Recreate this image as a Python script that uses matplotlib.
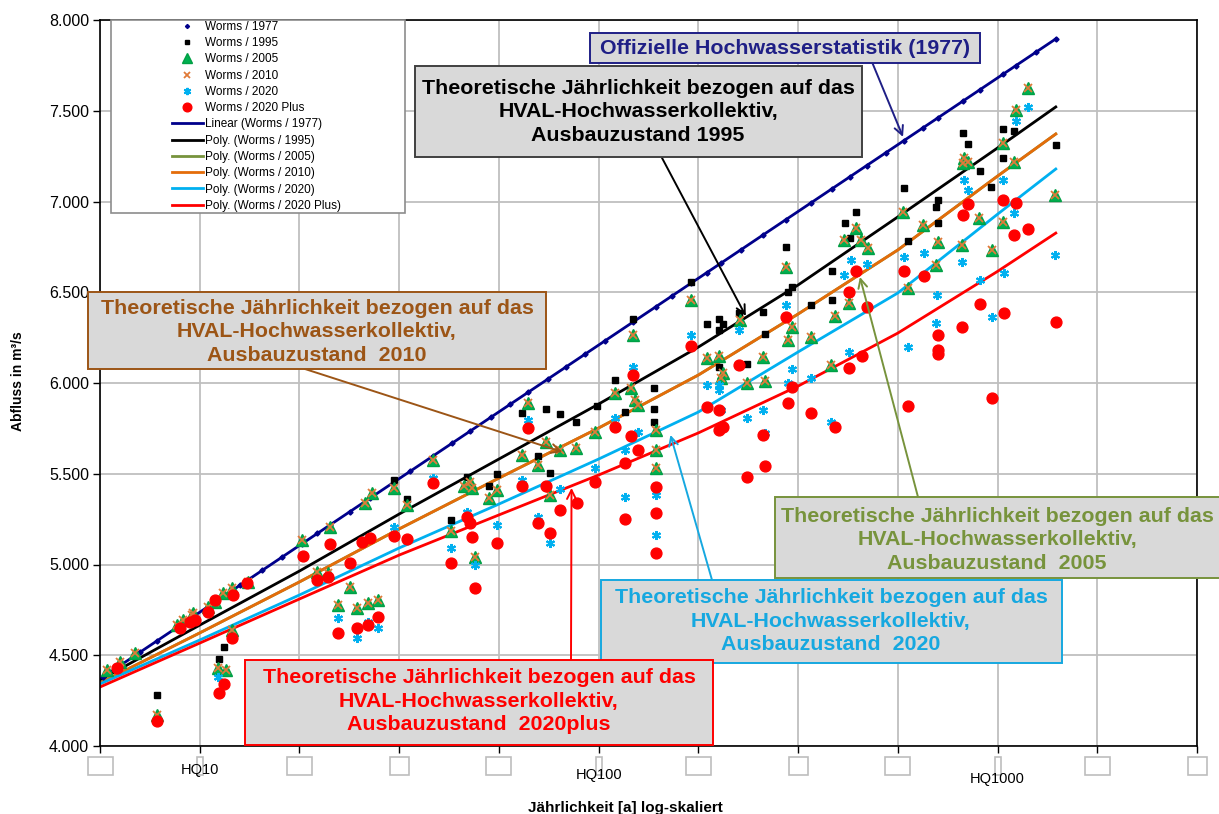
import numpy as np
import matplotlib
matplotlib.use("Agg")
import matplotlib.pyplot as plt
from matplotlib.patches import Rectangle
from matplotlib.transforms import IdentityTransform

plt.rcParams['font.family'] = ['Liberation Sans', 'DejaVu Sans']

# ---------------- data: (log10 Jährlichkeit, Abfluss m³/s) ----------------
worms_1977 = [(0.758, 4381), (0.800, 4443), (0.850, 4516), (0.893, 4580), (0.943, 4653),
              (0.981, 4709), (1.021, 4768), (1.059, 4824), (1.101, 4886), (1.157, 4968),
              (1.207, 5042), (1.257, 5115), (1.295, 5171), (1.327, 5218), (1.377, 5292),
              (1.428, 5367), (1.488, 5455), (1.528, 5514), (1.586, 5600), (1.633, 5669),
              (1.678, 5735), (1.729, 5810), (1.779, 5884), (1.824, 5950), (1.874, 6024),
              (1.917, 6087), (1.967, 6160), (2.017, 6234), (2.085, 6334), (2.143, 6419),
              (2.185, 6481), (2.231, 6549), (2.271, 6608), (2.306, 6659), (2.356, 6733),
              (2.411, 6814), (2.469, 6899), (2.532, 6992), (2.584, 7069), (2.630, 7136),
              (2.672, 7198), (2.720, 7269), (2.765, 7335), (2.813, 7406), (2.850, 7460),
              (2.913, 7553), (2.956, 7616), (3.013, 7700), (3.046, 7749), (3.096, 7822),
              (3.146, 7896)]

worms_1995 = [(0.893, 4281), (1.049, 4479), (1.061, 4545), (1.488, 5466), (1.520, 5361),
              (1.631, 5245), (1.671, 5482), (1.724, 5433), (1.746, 5499), (1.809, 5835),
              (1.867, 5857), (1.904, 5829), (1.944, 5785), (1.847, 5598), (1.879, 5504),
              (1.997, 5873), (2.042, 6017), (2.067, 5840), (2.085, 6353), (2.138, 5973),
              (2.138, 5857), (2.138, 5785), (2.231, 6557), (2.271, 6325), (2.301, 6353),
              (2.311, 6325), (2.301, 6292), (2.301, 6088), (2.351, 6386), (2.371, 6105),
              (2.411, 6391), (2.416, 6270), (2.469, 6749), (2.474, 6502), (2.484, 6529),
              (2.532, 6430), (2.584, 6617), (2.584, 6457), (2.630, 6799), (2.645, 6942),
              (2.617, 6882), (2.765, 7075), (2.775, 6782), (2.850, 7008), (2.845, 6970),
              (2.850, 6882), (2.913, 7378), (2.926, 7317), (2.956, 7168), (2.983, 7080),
              (3.013, 7400), (3.041, 7389), (3.013, 7240), (3.146, 7312)]

worms_2005 = [(0.768, 4419), (0.800, 4463), (0.838, 4512), (0.893, 4171), (0.943, 4667),
              (0.958, 4694), (0.981, 4722), (0.983, 4733), (1.021, 4766), (1.039, 4793),
              (1.059, 4843), (1.081, 4871), (1.121, 4904), (1.046, 4430), (1.066, 4419),
              (1.081, 4639), (1.257, 5135), (1.295, 4959), (1.322, 4953), (1.327, 5207),
              (1.347, 4777), (1.377, 4876), (1.395, 4760), (1.422, 4788), (1.448, 4804),
              (1.415, 5339), (1.433, 5394), (1.488, 5422), (1.520, 5328), (1.586, 5576),
              (1.631, 5185), (1.663, 5433), (1.678, 5455), (1.683, 5422), (1.691, 5041),
              (1.724, 5366), (1.746, 5411), (1.824, 5890), (1.809, 5603), (1.867, 5675),
              (1.904, 5631), (1.944, 5642), (1.847, 5548), (1.879, 5383), (1.992, 5730),
              (2.042, 5945), (2.080, 5973), (2.090, 5906), (2.098, 5879), (2.085, 6265),
              (2.143, 5741), (2.143, 5631), (2.143, 5532), (2.231, 6457), (2.271, 6138),
              (2.301, 6149), (2.311, 6055), (2.306, 6028), (2.354, 6347), (2.371, 6000),
              (2.411, 6143), (2.416, 6011), (2.469, 6639), (2.484, 6309), (2.474, 6237),
              (2.532, 6254), (2.592, 6369), (2.582, 6099), (2.614, 6788), (2.657, 6788),
              (2.675, 6744), (2.627, 6441), (2.645, 6854), (2.763, 6942), (2.775, 6524),
              (2.813, 6871), (2.850, 6777), (2.845, 6650), (2.916, 7240), (2.926, 7218),
              (2.913, 7212), (2.953, 6909), (2.911, 6761), (2.986, 6733), (3.013, 7323),
              (3.041, 7218), (3.046, 7504), (3.076, 7626), (3.013, 6887), (3.144, 7036)]

worms_2010 = list(worms_2005)

worms_2020 = [(1.046, 4380), (1.347, 4705), (1.395, 4595), (1.422, 4683), (1.448, 4650),
              (1.488, 5207), (1.586, 5477), (1.631, 5091), (1.671, 5289), (1.691, 4997),
              (1.746, 5218), (1.824, 5796), (1.809, 5466), (1.847, 5262), (1.879, 5119),
              (1.904, 5416), (1.992, 5532), (2.042, 5807), (2.098, 5730), (2.067, 5631),
              (2.067, 5372), (2.085, 6088), (2.143, 5383), (2.143, 5163), (2.231, 6265),
              (2.271, 5989), (2.301, 5989), (2.301, 5962), (2.306, 5851), (2.351, 6292),
              (2.371, 5807), (2.411, 5851), (2.416, 5725), (2.469, 6430), (2.484, 6077),
              (2.474, 6000), (2.532, 6028), (2.582, 5785), (2.614, 6595), (2.632, 6678),
              (2.672, 6656), (2.627, 6171), (2.765, 6694), (2.775, 6198), (2.815, 6716),
              (2.848, 6485), (2.845, 6331), (2.916, 7119), (2.926, 7064), (2.911, 6667),
              (2.956, 6568), (2.986, 6364), (3.016, 6606), (3.013, 7119), (3.041, 6937),
              (3.046, 7444), (3.076, 7521), (3.144, 6705)]

worms_2020_plus = [(0.793, 4430), (0.893, 4138), (0.951, 4650), (0.976, 4683), (0.988, 4694),
                   (1.021, 4738), (1.039, 4804), (1.084, 4832), (1.119, 4898), (1.049, 4292),
                   (1.061, 4342), (1.081, 4595), (1.259, 5047), (1.327, 5113), (1.295, 4915),
                   (1.322, 4931), (1.347, 4623), (1.377, 5008), (1.395, 4650), (1.422, 4667),
                   (1.448, 4711), (1.407, 5124), (1.428, 5146), (1.488, 5157), (1.520, 5140),
                   (1.586, 5449), (1.631, 5008), (1.671, 5262), (1.678, 5229), (1.683, 5152),
                   (1.691, 4871), (1.746, 5119), (1.824, 5752), (1.809, 5433), (1.847, 5229),
                   (1.879, 5174), (1.867, 5433), (1.904, 5300), (1.947, 5339), (1.992, 5455),
                   (2.042, 5758), (2.080, 5708), (2.098, 5631), (2.067, 5559), (2.067, 5251),
                   (2.085, 6044), (2.143, 5427), (2.143, 5284), (2.143, 5063), (2.231, 6204),
                   (2.271, 5868), (2.301, 5851), (2.301, 5741), (2.311, 5758), (2.351, 6099),
                   (2.371, 5482), (2.411, 5714), (2.416, 5543), (2.469, 6364), (2.484, 5978),
                   (2.474, 5890), (2.532, 5835), (2.592, 5758), (2.645, 6617), (2.627, 6502),
                   (2.672, 6419), (2.660, 6149), (2.627, 6083), (2.765, 6617), (2.775, 5873),
                   (2.815, 6590), (2.850, 6265), (2.850, 6182), (2.850, 6160), (2.926, 6986),
                   (2.913, 6926), (2.911, 6309), (2.956, 6435), (2.986, 5917), (3.013, 7008),
                   (3.046, 6992), (3.041, 6816), (3.076, 6849), (3.016, 6386), (3.146, 6336)]

# trend lines
trend_lgT = [0.75, 1.0, 1.25, 1.5, 1.75, 2.0, 2.25, 2.5, 2.75, 3.0, 3.146]
trend_1977 = [4369, 4737, 5105, 5473, 5841, 6209, 6577, 6945, 7313, 7681, 7896]
trend_1995 = [4364, 4666, 4964, 5278, 5581, 5884, 6198, 6540, 6915, 7295, 7521]
trend_2005 = [4347, 4623, 4904, 5196, 5476, 5752, 6044, 6380, 6733, 7140, 7372]
trend_2010 = [4347, 4623, 4904, 5196, 5476, 5752, 6044, 6380, 6733, 7140, 7372]
trend_2020 = [4342, 4584, 4832, 5091, 5333, 5581, 5840, 6171, 6496, 6930, 7179]
trend_2020_plus = [4325, 4567, 4810, 5052, 5273, 5493, 5725, 5983, 6275, 6615, 6826]

hq_ticks = [10, 100, 1000]
hq_labels = ['HQ10', 'HQ100', 'HQ1000']

# ---------------- figure ----------------
W, H = 1219, 814
fig = plt.figure(figsize=(W / 100, H / 100), dpi=100)
fig.patch.set_facecolor('white')
ax = fig.add_axes([100 / W, 1 - 746 / H, 1097 / W, 726 / H])


def fx(px):
    return px / W


def fy(py):
    return 1 - py / H


def split(series):
    lg, q = zip(*series)
    return 10 ** np.array(lg), np.array(q)


t = 10 ** np.array(trend_lgT)
line_specs = [
    (trend_1977, '#00008B', 'Linear (Worms / 1977)'),
    (trend_1995, '#000000', 'Poly. (Worms / 1995)'),
    (trend_2005, '#77933C', 'Poly. (Worms / 2005)'),
    (trend_2010, '#E46C0A', 'Poly. (Worms / 2010)'),
    (trend_2020, '#00B0F0', 'Poly. (Worms / 2020)'),
    (trend_2020_plus, '#FF0000', 'Poly. (Worms / 2020 Plus)'),
]
line_handles = []
for vals, c, lab in line_specs:
    h, = ax.plot(t, vals, color=c, lw=2.0, zorder=2.5, label=lab, solid_joinstyle='round')
    line_handles.append(h)

marker_handles = []
x, y = split(worms_1977)
h, = ax.plot(x, y, ls='none', marker='D', ms=2.6, color='#00008B', zorder=3, label='Worms / 1977')
marker_handles.append(h)
x, y = split(worms_1995)
h, = ax.plot(x, y, ls='none', marker='s', ms=4.3, color='#000000', zorder=3, label='Worms / 1995')
marker_handles.append(h)
x, y = split(worms_2005)
h, = ax.plot(x, y, ls='none', marker='^', ms=9, color='#00B050', mec='#00A045', zorder=3.1, label='Worms / 2005')
marker_handles.append(h)
x, y = split(worms_2010)
h, = ax.plot(x, y, ls='none', marker='x', ms=5.5, mew=1.3, color='#E07B39', zorder=3.2, label='Worms / 2010')
marker_handles.append(h)
x, y = split(worms_2020)
h, = ax.plot(x, y, ls='none', marker=(6, 2, 0), ms=6.5, mew=1.5, color='#00B0F0', zorder=3.3, label='Worms / 2020')
marker_handles.append(h)
x, y = split(worms_2020_plus)
h, = ax.plot(x, y, ls='none', marker='o', ms=7.8, color='#FF0000', zorder=3.4, label='Worms / 2020 Plus')
marker_handles.append(h)

# axes
ax.set_xscale('log')
ax.set_xlim(10 ** 0.75, 10 ** 3.5)
ax.set_ylim(4000, 8000)
ax.set_xticks(10 ** (np.arange(3, 15) / 4.0))
ax.set_xticks([], minor=True)
ax.set_xticklabels([''] * 12)
ax.set_yticks(np.arange(4000, 8001, 500))
ax.set_yticklabels([f"{v:,.0f}".replace(',', '.') for v in np.arange(4000, 8001, 500)])
ax.tick_params(axis='y', direction='out', length=5, width=1, labelsize=11.5, pad=3)
ax.tick_params(axis='x', direction='out', length=5, width=1, pad=2)
ax.grid(True, which='major', color='#BFBFBF', lw=1.3)
ax.set_axisbelow(True)
for s in ax.spines.values():
    s.set_color('black')
    s.set_linewidth(1.2)

fig.text(fx(18), fy(381), 'Abfluss in m³/s', rotation=90, ha='center', va='center',
         fontsize=10, fontweight='bold')
fig.text(fx(625), fy(808), 'Jährlichkeit [a] log-skaliert', ha='center', va='center',
         fontsize=11, fontweight='bold')

# empty tick-label boxes under the x axis
fig.canvas.draw()
box_w = [25, 6, 25, 19, 25, 6, 25, 19, 25, 6, 25, 19]
for tv, bw in zip(ax.get_xticks(), box_w):
    xc = ax.transData.transform((tv, 4000))[0]
    r = Rectangle((xc - bw / 2, H - 775), bw, 18, transform=IdentityTransform(),
                  fc='white', ec='#BDBDBD', lw=1.2, zorder=1)
    fig.add_artist(r)
hq_off = [770, 775, 779]
for tv, lab, py in zip(hq_ticks, hq_labels, hq_off):
    xc = ax.transData.transform((tv, 4000))[0]
    fig.text(xc / W, fy(py), lab, ha='center', va='center', fontsize=10.5)

# legend with its own frame
fig.add_artist(Rectangle((fx(111), fy(213)), (405 - 111) / W, (213 - 20) / H,
                         transform=fig.transFigure, fc='white', ec='#8C8C8C', lw=1.2, zorder=4))
fig.legend(marker_handles + line_handles, [h.get_label() for h in marker_handles + line_handles],
           loc='upper left', bbox_to_anchor=(fx(172), fy(21)), frameon=False, fontsize=8.5,
           handlelength=2.6, handletextpad=0.2, borderpad=0, borderaxespad=0,
           labelspacing=0.36, numpoints=1, markerscale=0.8)

# annotation boxes and arrows
txt = 'Theoretische Jährlichkeit bezogen auf das\nHVAL-Hochwasserkollektiv,\nAusbauzustand '
boxes = [
    ((590, 33, 980, 63), 'Offizielle Hochwasserstatistik (1977)', '#1F1F86', '#1F1F86'),
    ((415, 66, 862, 157), txt + '1995', '#000000', '#404040'),
    ((88, 292, 546, 369), txt + ' 2010', '#9C5516', '#9C5516'),
    ((775, 497, 1225, 578), txt + ' 2005', '#77933C', '#77933C'),
    ((601, 580, 1062, 663), txt + ' 2020', '#16A8E0', '#16A8E0'),
    ((245, 660, 713, 745), txt + ' 2020plus', '#FF0000', '#FF0000'),
]
text_centers = [(785, 48), (638, 112), (317, 332), (997, 540), (831, 621), (479, 701)]
for ((x0, y0, x1, y1), s, tc, ec), (cx, cy) in zip(boxes, text_centers):
    fig.add_artist(Rectangle((fx(x0), fy(y1)), (x1 - x0) / W, (y1 - y0) / H,
                             transform=fig.transFigure, fc='#D9D9D9', ec=ec, lw=1.4, zorder=6))
    fig.text(fx(cx), fy(cy), s, ha='center', va='center', multialignment='center',
             fontsize=15.4, fontweight='bold', color=tc, zorder=7, linespacing=1.33)

arrows = [
    ((872, 62), (2.763, 7356), '#1F1F86'),
    ((661, 156), (2.369, 6369), '#000000'),
    ((305, 369), (1.909, 5620), '#9C5516'),
    ((918, 497), (2.655, 6584), '#77933C'),
    ((712, 580), (2.180, 5714), '#16A8E0'),
    ((571, 660), (1.932, 5422), '#FF0000'),
]
for (sx, sy), (lg, q), c in arrows:
    ax.annotate('', xy=(10 ** lg, q), xycoords='data', xytext=(fx(sx), fy(sy)),
                textcoords='figure fraction',
                arrowprops=dict(arrowstyle='->', color=c, lw=1.4, shrinkA=0, shrinkB=0,
                                mutation_scale=16), zorder=5)

fig.savefig('out.png', dpi=100)
